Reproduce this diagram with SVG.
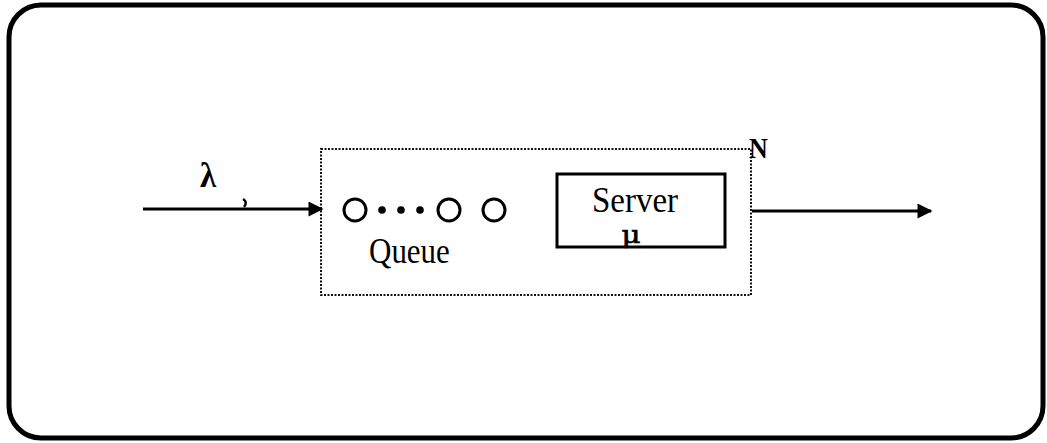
<svg xmlns="http://www.w3.org/2000/svg" width="1047" height="443" viewBox="0 0 1047 443">
  <style>
    .frame { fill: none; stroke: #000; stroke-width: 5; }
    .dotted { fill: none; stroke: #111; stroke-width: 2; stroke-dasharray: 2 1.5; }
    .box { fill: none; stroke: #000; stroke-width: 3; }
    .slot { fill: none; stroke: #000; stroke-width: 3; }
    .dot { fill: #000; }
    .line { stroke: #000; stroke-width: 3; fill: none; }
    .txt { font-family: "Liberation Serif", "Times New Roman", serif; fill: #000; }
    .greek { font-family: "DejaVu Serif", "Liberation Serif", serif; fill: #000; stroke: #000; stroke-width: 0.6; }
  </style>
  <defs>
    <marker id="arrow" viewBox="0 0 10 10" refX="9" refY="5" markerWidth="6" markerHeight="5" orient="auto" markerUnits="strokeWidth">
      <path d="M0,0 L10,5 L0,10 Z" fill="#000"/>
    </marker>
  </defs>

  <!-- outer frame -->
  <rect class="frame" x="9" y="5" width="1034" height="433" rx="32" ry="32"/>

  <!-- station N: queue plus server -->
  <g id="station">
    <rect class="dotted" x="321" y="149" width="430" height="146"/>
    <text class="txt" transform="translate(749,158) scale(1,1.1)" font-size="26" font-weight="bold">N</text>
  </g>

  <g id="queue">
    <circle class="slot" cx="355" cy="210" r="11"/>
    <circle class="dot" cx="382" cy="210" r="3.8"/>
    <circle class="dot" cx="401" cy="210" r="3.8"/>
    <circle class="dot" cx="420" cy="210" r="3.8"/>
    <circle class="slot" cx="449" cy="210" r="11"/>
    <circle class="slot" cx="494" cy="210" r="11"/>
    <text class="txt" transform="translate(369,263) scale(1,1.15)" font-size="31">Queue</text>
  </g>

  <g id="server">
    <rect class="box" x="557" y="174" width="168" height="73"/>
    <text class="txt" transform="translate(635,212) scale(1,1.08)" font-size="33" text-anchor="middle">Server</text>
    <text class="greek" transform="translate(631,243) scale(1.4,1.15)" font-size="21" text-anchor="middle">μ</text>
  </g>

  <!-- arrival and departure flows -->
  <g id="connectors">
    <line class="line" x1="143" y1="209" x2="322" y2="209" marker-end="url(#arrow)"/>
    <line class="line" x1="752" y1="211" x2="931" y2="211" marker-end="url(#arrow)"/>
    <path d="M243,199 q5,3 1,8" stroke="#000" stroke-width="2.5" fill="none"/>
    <text class="txt" transform="translate(200,187) scale(1,1.1)" font-size="33" font-weight="bold">λ</text>
  </g>
</svg>
